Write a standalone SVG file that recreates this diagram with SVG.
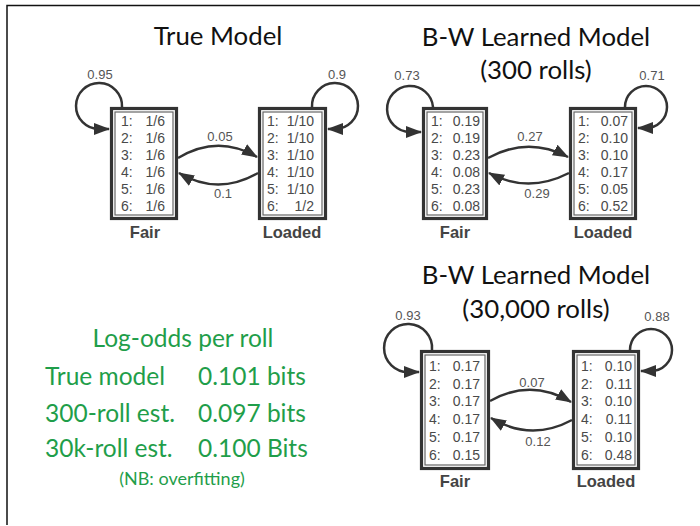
<svg xmlns="http://www.w3.org/2000/svg" width="700" height="526" viewBox="0 0 700 526">
<style>
.title{font-family:Lato,"Open Sans",sans-serif;font-size:25.8px;fill:#111;text-anchor:middle}
.green{font-family:Lato,"Open Sans",sans-serif;font-size:24.5px;fill:#1f9e4a}
.cell{font-family:"Liberation Sans",Arial,sans-serif;font-size:14px;fill:#4a4a4a}
.val{font-family:"Liberation Sans",Arial,sans-serif;font-size:14px;fill:#4a4a4a;text-anchor:end}
.prob{font-family:"Liberation Sans",Arial,sans-serif;font-size:13px;fill:#555;text-anchor:middle}
.name{font-family:"Liberation Sans",Arial,sans-serif;font-size:16.5px;font-weight:bold;fill:#444;text-anchor:middle}
.outer{fill:#fff;stroke:#333;stroke-width:3.2}
.inner{fill:none;stroke:#666;stroke-width:1.2}
.edge{fill:none;stroke:#333;stroke-width:2.5;marker-end:url(#ah)}
</style>
<defs>
<marker id="ah" markerUnits="userSpaceOnUse" markerWidth="18" markerHeight="14" refX="15" refY="6" orient="auto">
<path d="M0,0 L16,6 L0,12 z" fill="#333"/>
</marker>
</defs>
<rect x="0" y="0" width="700" height="526" fill="#fff"/>
<path d="M7,525 L7,5.5 L700,5.5" fill="none" stroke="#111" stroke-width="1.5"/>

<text class="title" x="218" y="45">True Model</text>
<text class="title" x="536" y="46">B-W Learned Model</text>
<text class="title" x="536" y="79">(300 rolls)</text>
<text class="title" x="536" y="284">B-W Learned Model</text>
<text class="title" x="536" y="318">(30,000 rolls)</text>

<g id="connectors">
<path class="edge" d="M122,107 A23,23 0 1 0 99,129 L109,129"/>
<path class="edge" d="M312,107 A23,23 0 1 1 335,129 L328,129"/>
<path class="edge" d="M178,158 Q218,134 257,157"/>
<path class="edge" d="M258,173 Q218,196 179,173"/>

<path class="edge" d="M433,107 A23,23 0 1 0 410,132 L421,132"/>
<path class="edge" d="M625,107 A21,21 0 1 1 646,128 L638,128"/>
<path class="edge" d="M488,158 Q528,136 568,157"/>
<path class="edge" d="M569,173 Q528,194 489,173"/>

<path class="edge" d="M432,350 A24,24 0 1 0 409,372 L419,372"/>
<path class="edge" d="M630,350 A21,21 0 1 1 651,371 L641,371"/>
<path class="edge" d="M490,401 Q531,378 571,402"/>
<path class="edge" d="M572,420 Q531,442 491,418"/>

<text class="prob" x="100" y="79">0.95</text>
<text class="prob" x="337" y="79">0.9</text>
<text class="prob" x="220" y="141">0.05</text>
<text class="prob" x="223" y="198">0.1</text>
<text class="prob" x="407" y="80">0.73</text>
<text class="prob" x="652" y="80">0.71</text>
<text class="prob" x="530" y="141">0.27</text>
<text class="prob" x="537" y="198">0.29</text>
<text class="prob" x="408" y="320">0.93</text>
<text class="prob" x="657" y="321">0.88</text>
<text class="prob" x="532" y="387">0.07</text>
<text class="prob" x="538" y="446">0.12</text>
</g>

<g id="true-fair">
<rect class="outer" x="111.5" y="108.5" width="65" height="110"/>
<rect class="inner" x="115" y="112" width="58" height="103"/>
<text class="cell" x="121" y="126">1:</text><text class="val" x="165" y="126">1/6</text>
<text class="cell" x="121" y="143">2:</text><text class="val" x="165" y="143">1/6</text>
<text class="cell" x="121" y="160">3:</text><text class="val" x="165" y="160">1/6</text>
<text class="cell" x="121" y="177">4:</text><text class="val" x="165" y="177">1/6</text>
<text class="cell" x="121" y="194">5:</text><text class="val" x="165" y="194">1/6</text>
<text class="cell" x="121" y="211">6:</text><text class="val" x="165" y="211">1/6</text>
<text class="name" x="145" y="238">Fair</text>
</g>
<g id="true-loaded">
<rect class="outer" x="259.5" y="108.5" width="66" height="110"/>
<rect class="inner" x="263" y="112" width="59" height="103"/>
<text class="cell" x="267" y="126">1:</text><text class="val" x="314" y="126">1/10</text>
<text class="cell" x="267" y="143">2:</text><text class="val" x="314" y="143">1/10</text>
<text class="cell" x="267" y="160">3:</text><text class="val" x="314" y="160">1/10</text>
<text class="cell" x="267" y="177">4:</text><text class="val" x="314" y="177">1/10</text>
<text class="cell" x="267" y="194">5:</text><text class="val" x="314" y="194">1/10</text>
<text class="cell" x="267" y="211">6:</text><text class="val" x="314" y="211">1/2</text>
<text class="name" x="292" y="238">Loaded</text>
</g>

<g id="bw300-fair">
<rect class="outer" x="423.5" y="108.5" width="63" height="110"/>
<rect class="inner" x="427" y="112" width="56" height="103"/>
<text class="cell" x="431" y="126">1:</text><text class="val" x="480" y="126">0.19</text>
<text class="cell" x="431" y="143">2:</text><text class="val" x="480" y="143">0.19</text>
<text class="cell" x="431" y="160">3:</text><text class="val" x="480" y="160">0.23</text>
<text class="cell" x="431" y="177">4:</text><text class="val" x="480" y="177">0.08</text>
<text class="cell" x="431" y="194">5:</text><text class="val" x="480" y="194">0.23</text>
<text class="cell" x="431" y="211">6:</text><text class="val" x="480" y="211">0.08</text>
<text class="name" x="455" y="238">Fair</text>
</g>
<g id="bw300-loaded">
<rect class="outer" x="570.5" y="108.5" width="65" height="110"/>
<rect class="inner" x="574" y="112" width="58" height="103"/>
<text class="cell" x="578" y="126">1:</text><text class="val" x="628" y="126">0.07</text>
<text class="cell" x="578" y="143">2:</text><text class="val" x="628" y="143">0.10</text>
<text class="cell" x="578" y="160">3:</text><text class="val" x="628" y="160">0.10</text>
<text class="cell" x="578" y="177">4:</text><text class="val" x="628" y="177">0.17</text>
<text class="cell" x="578" y="194">5:</text><text class="val" x="628" y="194">0.05</text>
<text class="cell" x="578" y="211">6:</text><text class="val" x="628" y="211">0.52</text>
<text class="name" x="603" y="238">Loaded</text>
</g>

<g id="bw30k-fair">
<rect class="outer" x="421.5" y="351.5" width="67" height="117"/>
<rect class="inner" x="425" y="355" width="60" height="110"/>
<text class="cell" x="429" y="371">1:</text><text class="val" x="480" y="371">0.17</text>
<text class="cell" x="429" y="389">2:</text><text class="val" x="480" y="389">0.17</text>
<text class="cell" x="429" y="406">3:</text><text class="val" x="480" y="406">0.17</text>
<text class="cell" x="429" y="424">4:</text><text class="val" x="480" y="424">0.17</text>
<text class="cell" x="429" y="442">5:</text><text class="val" x="480" y="442">0.17</text>
<text class="cell" x="429" y="460">6:</text><text class="val" x="480" y="460">0.15</text>
<text class="name" x="455" y="487">Fair</text>
</g>
<g id="bw30k-loaded">
<rect class="outer" x="573.5" y="351.5" width="65" height="117"/>
<rect class="inner" x="577" y="355" width="58" height="110"/>
<text class="cell" x="581" y="371">1:</text><text class="val" x="632" y="371">0.10</text>
<text class="cell" x="581" y="389">2:</text><text class="val" x="632" y="389">0.11</text>
<text class="cell" x="581" y="406">3:</text><text class="val" x="632" y="406">0.10</text>
<text class="cell" x="581" y="424">4:</text><text class="val" x="632" y="424">0.11</text>
<text class="cell" x="581" y="442">5:</text><text class="val" x="632" y="442">0.10</text>
<text class="cell" x="581" y="460">6:</text><text class="val" x="632" y="460">0.48</text>
<text class="name" x="606" y="487">Loaded</text>
</g>

<g id="log-odds">
<text class="green" x="183" y="347" text-anchor="middle">Log-odds per roll</text>
<text class="green" x="45" y="385">True model</text>
<text class="green" x="198" y="385">0.101 bits</text>
<text class="green" x="45" y="422">300-roll est.</text>
<text class="green" x="198" y="422">0.097 bits</text>
<text class="green" x="45" y="457">30k-roll est.</text>
<text class="green" x="198" y="457">0.100 Bits</text>
<text class="green" x="182" y="485" text-anchor="middle" style="font-size:18px">(NB: overfitting)</text>
</g>
</svg>
